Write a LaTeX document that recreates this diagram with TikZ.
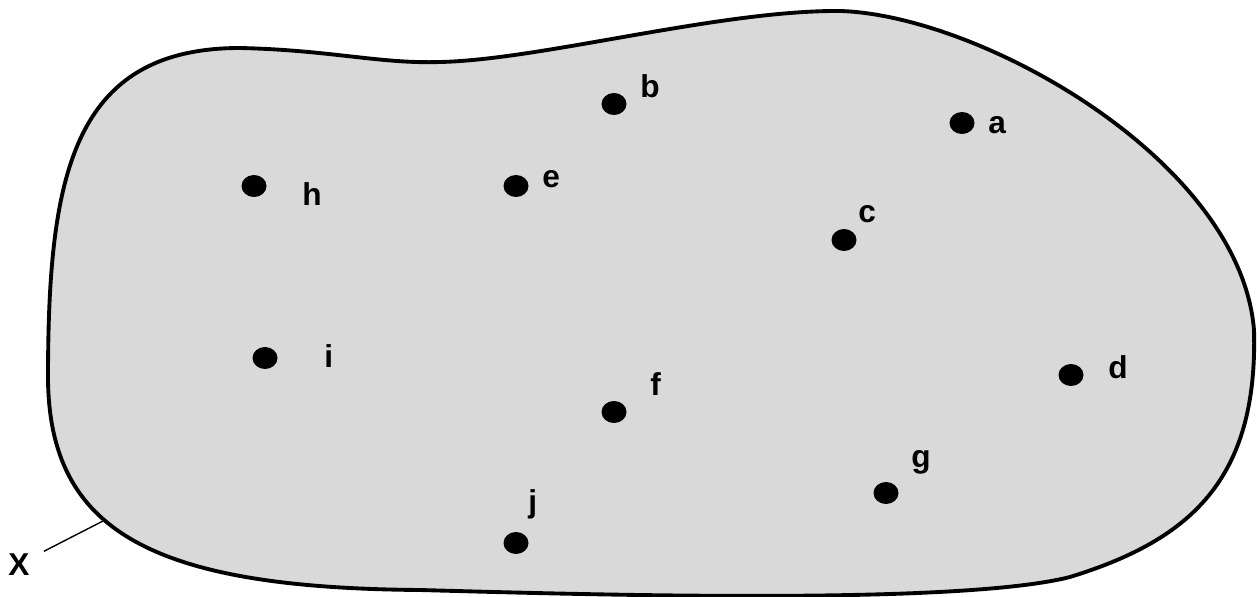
\documentclass[tikz,border=0pt]{standalone}
\usepackage{fontspec}
\setmainfont{Liberation Sans}
\usetikzlibrary{shapes.geometric}
\definecolor{regiongray}{RGB}{217,217,217}

\begin{document}
\begin{tikzpicture}[x = 0.02cm, y = -0.02cm,
  elem/.style = {ellipse, fill = black, inner sep = 0pt, minimum width = 0.5cm, minimum height = 0.44cm},
  lbl/.style = {anchor = base west, inner sep = 0pt, font = \fontsize{18}{20}\selectfont\bfseries}]
\useasboundingbox (0,0) rectangle (1257,597);
% set X
\path[draw, line width = 2.2pt, fill = regiongray]
  (48,380) .. controls (48,180) and (70,48) .. (240,48)
  .. controls (330,50) and (380,64) .. (440,62)
  .. controls (540,60) and (720,10) .. (840,11)
  .. controls (980,15) and (1240,160) .. (1254,330)
  .. controls (1258,480) and (1190,540) .. (1070,577)
  .. controls (960,605) and (600,595) .. (420,590)
  .. controls (150,588) and (50,530) .. (48,380) -- cycle;
% elements
\node[elem](a)at(962,123){};
\node[elem](b)at(614,104){};
\node[elem](c)at(844,240){};
\node[elem](d)at(1071,375){};
\node[elem](e)at(516,186){};
\node[elem](f)at(614,412){};
\node[elem](g)at(886,493){};
\node[elem](h)at(254,186){};
\node[elem](i)at(265,358){};
\node[elem](j)at(516,543){};
\node[lbl](la)at(988,134){a};
\node[lbl](lb)at(640,98){b};
\node[lbl](lc)at(858,223){c};
\node[lbl](ld)at(1108,379){d};
\node[lbl](le)at(542,188){e};
\node[lbl](lf)at(650,396){f};
\node[lbl](lg)at(911,467){g};
\node[lbl](lh)at(302,206){h};
\node[lbl](li)at(324,368){i};
\node[lbl](lj)at(528,512){j};
% label of the set
\node[lbl](lX)at(8,575){X};
\coordinate(xtip)at(103,521);
\path[draw, line width = 0.8pt, shorten <= 9pt](lX)to(xtip);
\end{tikzpicture}
\end{document}
